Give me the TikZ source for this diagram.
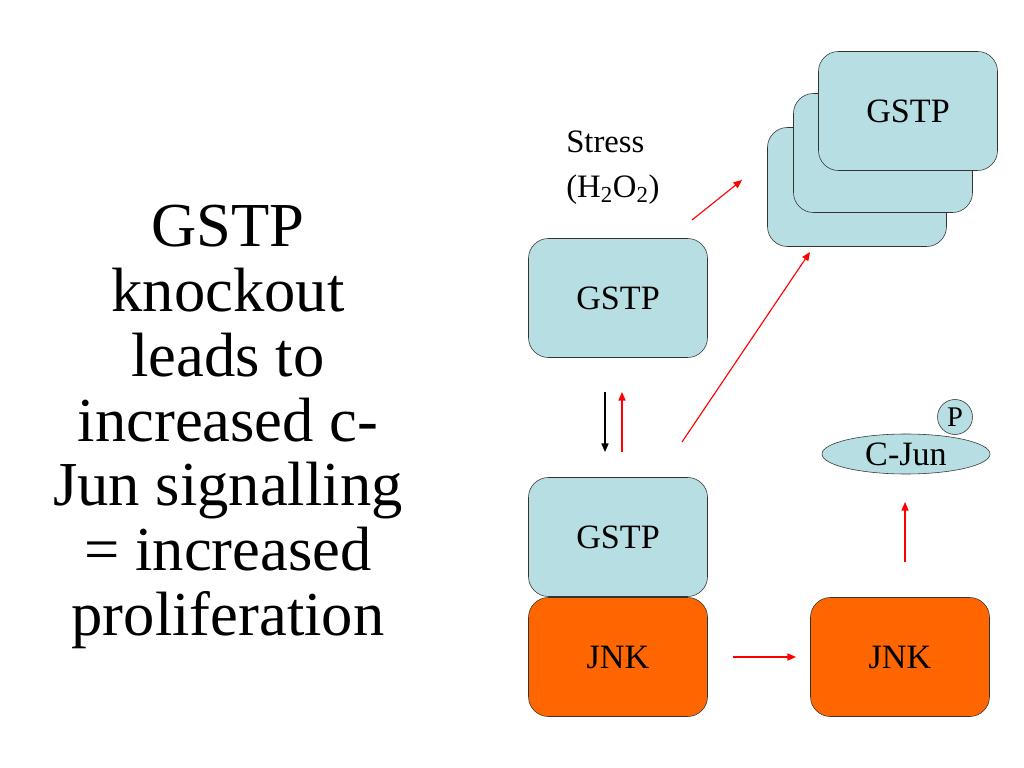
\documentclass[tikz,border=0pt]{standalone}
\usepackage{fontspec}
\setmainfont{Liberation Serif}
\usetikzlibrary{arrows.meta,shapes.geometric}
\newdimen\pxu \pxu=0.703125pt
\definecolor{gstpblue}{HTML}{B7DEE3}
\definecolor{jnkorange}{HTML}{FF6600}
\definecolor{arrowred}{HTML}{FF0000}
\tikzset{
  protbox/.style={draw=black!80, rounded corners=14pt, minimum width=179\pxu,
    minimum height=119\pxu, inner sep=0pt, font=\fontsize{24}{28}\selectfont},
  gstpbox/.style={protbox, fill=gstpblue},
  jnkbox/.style={protbox, fill=jnkorange},
  redarrow/.style={draw=arrowred, line width=0.8pt, -{Triangle[length=6pt,width=5pt]}},
  blackarrow/.style={draw=black, line width=0.8pt, -{Triangle[length=6pt,width=5pt]}}
}
\begin{document}
\begin{tikzpicture}[x=\pxu, y=-\pxu]
\useasboundingbox (0,0) rectangle (1024,768);

% Title text on the left
\node[align=center, font=\fontsize{44}{45.5}\selectfont] (title) at (228,427)
  {GSTP\\knockout\\leads to\\increased c-\\Jun signalling\\= increased\\proliferation};

% Stress label
\node[align=left, anchor=north west, inner sep=0pt, font=\fontsize{23}{31}\selectfont] (stress) at (566,131)
  {Stress\\(H\textsubscript{2}O\textsubscript{2})};

% Protein boxes
\node[gstpbox] (gstpA) at (618,298) {GSTP};
\node[gstpbox] (gstpB) at (618,537) {GSTP};
\node[jnkbox] (jnkA) at (618,657) {JNK};
\node[jnkbox] (jnkB) at (900,657) {JNK};

% Stack of released GSTP
\node[gstpbox] (stackC) at (857,187) {};
\node[gstpbox] (stackB) at (883,153) {};
\node[gstpbox] (stackA) at (908,111) {GSTP};

% Phosphorylated C-Jun
\node[draw=black!80, fill=gstpblue, ellipse, minimum width=168\pxu, minimum height=40\pxu,
  inner sep=0pt, font=\fontsize{24}{28}\selectfont] (cjun) at (906,454) {C-Jun};
\node[draw=black!80, fill=gstpblue, circle, minimum size=35\pxu, inner sep=0pt,
  font=\fontsize{20}{24}\selectfont] (phos) at (955,417) {P};

% Arrow ends
\coordinate (downS) at (605,392);
\coordinate (downE) at (605,452);
\coordinate (upS) at (622,452);
\coordinate (upE) at (622,392);
\coordinate (stressS) at (692,220);
\coordinate (stressE) at (742,180);
\coordinate (relS) at (682,442);
\coordinate (relE) at (810,252);
\coordinate (moveS) at (733,657);
\coordinate (moveE) at (796,657);
\coordinate (actS) at (905,562);
\coordinate (actE) at (905,502);

% Arrows
\draw[blackarrow] (downS) -- (downE);
\draw[redarrow] (upS) -- (upE);
\draw[redarrow] (stressS) -- (stressE);
\draw[redarrow] (relS) -- (relE);
\draw[redarrow] (moveS) -- (moveE);
\draw[redarrow] (actS) -- (actE);
\end{tikzpicture}
\end{document}
